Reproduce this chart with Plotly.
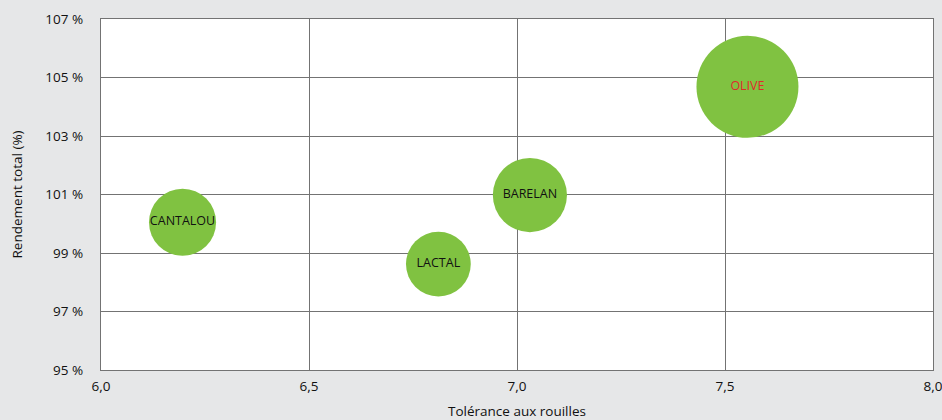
import plotly.graph_objects as go

varieties = ["CANTALOU", "LACTAL", "BARELAN", "OLIVE"]
tolerance = [6.196, 6.811, 7.031, 7.554]
rendement = [100.05, 98.62, 100.98, 104.68]
bubble_value = [4.5, 4.2, 5.5, 10.4]
label_colors = ["#111111", "#111111", "#111111", "#e0282c"]

x_ticks = [6.0, 6.5, 7.0, 7.5, 8.0]
x_ticktext = ["6,0", "6,5", "7,0", "7,5", "8,0"]
y_ticks = [95, 97, 99, 101, 103, 105, 107]
y_ticktext = ["95 %", "97 %", "99 %", "101 %", "103 %", "105 %", "107 %"]

BG = "#e6e7e8"

fig = go.Figure()
fig.add_trace(go.Scatter(
    x=tolerance, y=rendement, mode="markers+text",
    text=varieties, textposition="middle center",
    textfont=dict(color=label_colors, size=12.5, family="Open Sans"),
    marker=dict(size=bubble_value, sizemode="area", sizeref=0.002,
                color="#80c241", line=dict(width=0), opacity=1),
    hoverinfo="skip", cliponaxis=False,
))

fig.update_layout(
    width=942, height=420,
    margin=dict(l=101, r=9, t=19, b=50),
    paper_bgcolor=BG, plot_bgcolor="#ffffff",
    showlegend=False,
    font=dict(family="Open Sans", size=13, color="#111111"),
    annotations=[
        dict(text="Tolérance aux rouilles", xref="paper", yref="paper",
             x=0.5, y=-0.117, showarrow=False, xanchor="center", yanchor="middle",
             font=dict(size=13.5, color="#111111")),
        dict(text="Rendement total (%)", xref="paper", yref="paper",
             x=-0.101, y=0.5, showarrow=False, xanchor="center", yanchor="middle",
             textangle=-90, font=dict(size=13.5, color="#111111")),
    ],
)
fig.update_xaxes(
    range=[6.0, 8.0], tickvals=x_ticks, ticktext=x_ticktext,
    showgrid=True, gridcolor="#737373", gridwidth=1.3,
    showline=True, linecolor="#737373", linewidth=1.3, mirror=True,
    zeroline=False, ticks="outside", ticklen=4, tickcolor=BG,
    automargin=False, ticklabeloverflow="allow", tickfont=dict(size=13.5),
)
fig.update_yaxes(
    range=[95, 107], tickvals=y_ticks, ticktext=y_ticktext,
    showgrid=True, gridcolor="#737373", gridwidth=1.3,
    showline=True, linecolor="#737373", linewidth=1.3, mirror=True,
    zeroline=False, ticks="outside", ticklen=14, tickcolor=BG,
    automargin=False, ticklabeloverflow="allow", tickfont=dict(size=13.5),
)

fig.write_html("out.html", config={"displayModeBar": False},
               post_script="document.body.style.margin='0';document.body.style.overflow='hidden';")
